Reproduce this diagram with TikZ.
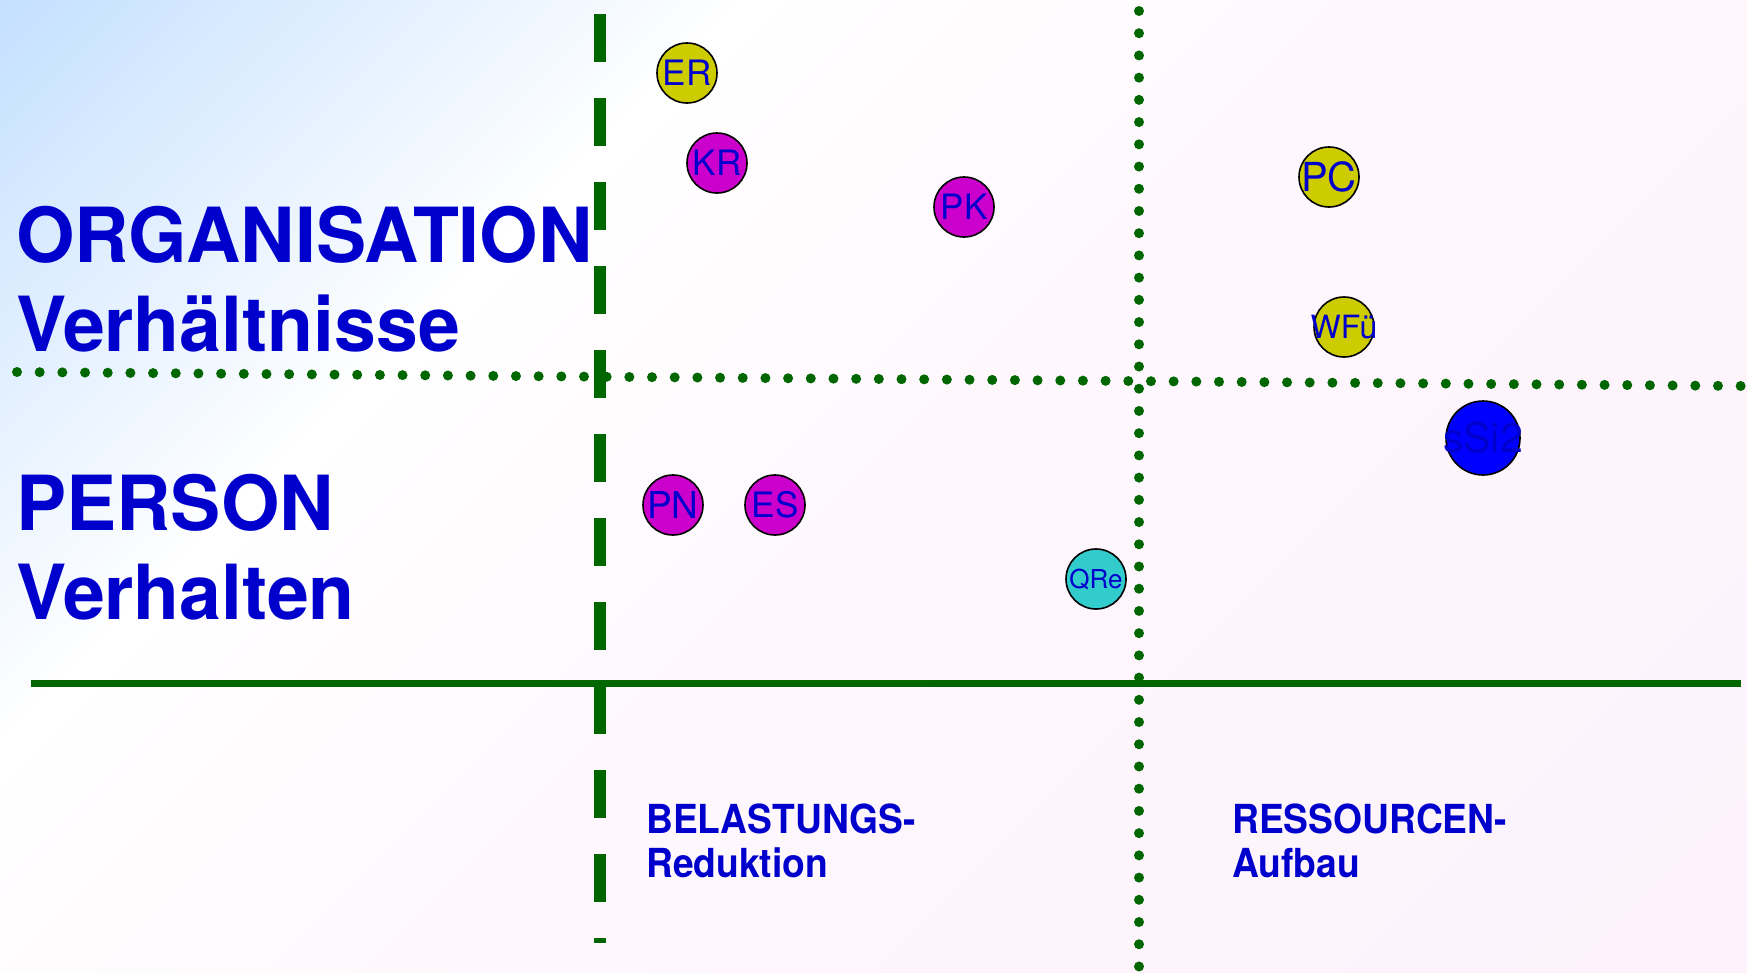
\documentclass[tikz,border=0pt]{standalone}
\usepackage{fontspec}
\setmainfont{TeX Gyre Heros}
\newfontfamily\headfont[FakeStretch=0.99]{TeX Gyre Heros}
\newfontfamily\footfont[FakeStretch=0.93]{TeX Gyre Heros}
\usetikzlibrary{positioning}
\definecolor{darkgreen}{RGB}{0,102,0}
\definecolor{labelblue}{RGB}{0,0,204}
\definecolor{spotyellow}{RGB}{204,204,0}
\definecolor{spotmagenta}{RGB}{204,0,204}
\definecolor{spotcyan}{RGB}{51,204,204}
\definecolor{spotblue}{RGB}{0,0,255}
\definecolor{bgblue}{RGB}{182,216,255}
\definecolor{bgpink}{RGB}{253,241,251}
\pgfdeclarehorizontalshading{backdrop}{100bp}{color(0bp)=(bgblue); color(10bp)=(bgblue); color(34bp)=(white); color(52bp)=(white!45!bgpink); color(90bp)=(bgpink); color(100bp)=(bgpink)}
\tikzset{
  axislabel/.style={anchor=base west,inner sep=0pt,text=labelblue,font=\headfont\bfseries\fontsize{76}{80}\selectfont},
  fieldlabel/.style={anchor=base west,inner sep=0pt,text=labelblue,font=\footfont\bfseries\fontsize{40}{44}\selectfont},
  spot/.style={circle,draw=black,line width=1.6pt,minimum size=60pt,inner sep=0pt,text=labelblue,font=\fontsize{35}{40}\selectfont},
  yellowspot/.style={spot,fill=spotyellow},
  magentaspot/.style={spot,fill=spotmagenta},
  cyanspot/.style={spot,fill=spotcyan},
  bluespot/.style={spot,fill=spotblue,minimum size=74pt},
  dashline/.style={draw=darkgreen,line width=12pt,dash pattern=on 48pt off 36pt},
  dotline/.style={draw=darkgreen,line width=10pt,line cap=round,dash pattern=on 0pt off #1},
  groundline/.style={draw=darkgreen,line width=7pt}
}
\newcommand{\spotlabel}[1]{\makebox[0pt]{#1}}

\begin{document}
\begin{tikzpicture}[x=1pt,y=-1pt]
  %% backdrop
  \useasboundingbox (0,0) rectangle (1747,972);
  \shade[shading=backdrop,shading angle=-45] (0,0) rectangle (1747,972);

  %% grid lines
  \coordinate (hl) at (17,372);   \coordinate (hr) at (1741,386);
  \coordinate (vt) at (1139,11);  \coordinate (vb) at (1139,972);
  \coordinate (gl) at (31,683);   \coordinate (gr) at (1741,683);
  \coordinate (dt) at (600,14);   \coordinate (db) at (600,943);
  \draw[dotline=22.68pt] (hl) -- (hr);
  \draw[dotline=22.22pt] (vt) -- (vb);
  \draw[groundline] (gl) -- (gr);
  \draw[dashline] (dt) -- (db);

  %% row and column labels
  \node[axislabel] (orgtitle) at (16,262) {ORGANISATION};
  \node[axislabel] (orgsub) at (16,351) {Verhältnisse};
  \node[axislabel] (perstitle) at (16,530) {PERSON};
  \node[axislabel] (perssub) at (16,619) {Verhalten};
  \node[fieldlabel] (loadtitle) at (646,833) {BELASTUNGS-};
  \node[fieldlabel] (loadsub) at (646,877) {Reduktion};
  \node[fieldlabel] (restitle) at (1232,833) {RESSOURCEN-};
  \node[fieldlabel] (ressub) at (1232,877) {Aufbau};

  %% measures
  \node[yellowspot] (er) at (687,73) {ER};
  \node[magentaspot] (kr) at (717,163) {KR};
  \node[magentaspot] (pk) at (964,207) {PK};
  \node[yellowspot,font=\fontsize{40}{44}\selectfont] (pc) at (1329,177) {\spotlabel{PC}};
  \node[yellowspot,font=\fontsize{32}{36}\selectfont] (wfu) at (1344,327) {\spotlabel{WFü}};
  \node[bluespot,font=\fontsize{41}{44}\selectfont] (ssi) at (1483,438) {\spotlabel{sSi2}};
  \node[magentaspot,font=\fontsize{37}{40}\selectfont] (pn) at (673,505) {\spotlabel{PN}};
  \node[magentaspot] (es) at (775,505) {ES};
  \node[cyanspot,font=\fontsize{26}{30}\selectfont] (qre) at (1096,579) {\spotlabel{QRe}};
\end{tikzpicture}
\end{document}
